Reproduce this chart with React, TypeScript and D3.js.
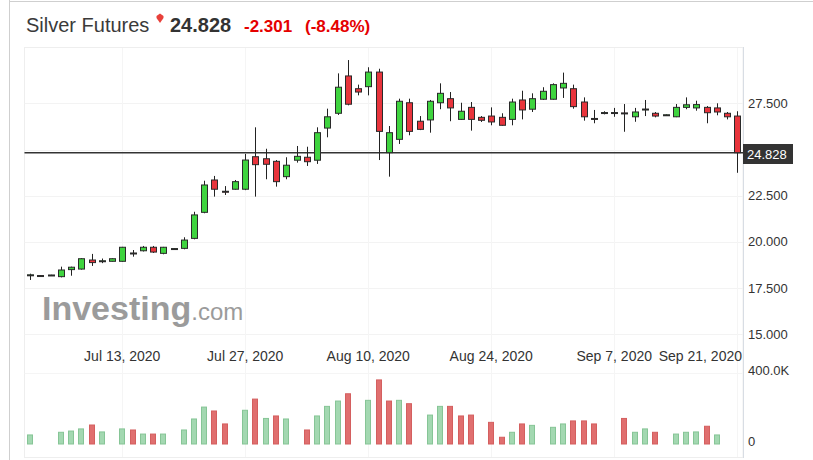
import React from 'react';
import * as d3 from 'd3';

// trading sessions (incl. Sunday evening sessions)
const dates = [
  '2020-07-02', '2020-07-03', '2020-07-05', '2020-07-06', '2020-07-07', '2020-07-08', '2020-07-09', '2020-07-10',
  '2020-07-12', '2020-07-13', '2020-07-14', '2020-07-15', '2020-07-16', '2020-07-17',
  '2020-07-19', '2020-07-20', '2020-07-21', '2020-07-22', '2020-07-23', '2020-07-24',
  '2020-07-26', '2020-07-27', '2020-07-28', '2020-07-29', '2020-07-30', '2020-07-31',
  '2020-08-02', '2020-08-03', '2020-08-04', '2020-08-05', '2020-08-06', '2020-08-07',
  '2020-08-09', '2020-08-10', '2020-08-11', '2020-08-12', '2020-08-13', '2020-08-14',
  '2020-08-16', '2020-08-17', '2020-08-18', '2020-08-19', '2020-08-20', '2020-08-21',
  '2020-08-23', '2020-08-24', '2020-08-25', '2020-08-26', '2020-08-27', '2020-08-28',
  '2020-08-30', '2020-08-31', '2020-09-01', '2020-09-02', '2020-09-03', '2020-09-04',
  '2020-09-06', '2020-09-07', '2020-09-08', '2020-09-09', '2020-09-10', '2020-09-11',
  '2020-09-13', '2020-09-14', '2020-09-15', '2020-09-16', '2020-09-17', '2020-09-18',
  '2020-09-20', '2020-09-21',
];

const open = [
  18.20, 18.18, 18.20, 18.12, 18.50, 18.53, 19.02, 18.96, 18.95, 18.95, 19.40, 19.52, 19.71, 19.38,
  19.62, 19.65, 20.19, 21.60, 23.35, 22.74, 22.85, 22.85, 24.61, 24.50, 24.36, 23.53,
  24.42, 24.58, 24.42, 26.16, 26.96, 28.98, 28.29, 28.40, 29.19, 24.83, 25.55, 27.53,
  26.53, 26.60, 27.53, 27.75, 26.63, 27.28, 26.74, 26.81, 26.74, 26.63, 27.68, 27.18,
  27.72, 27.72, 28.33, 28.29, 27.57, 26.68, 26.97, 26.98, 26.98, 26.77, 27.17, 26.96,
  26.86, 26.77, 27.28, 27.25, 27.28, 27.25, 26.96, 26.81,
];
const high = [
  18.28, 18.20, 18.22, 18.66, 18.66, 19.12, 19.35, 19.10, 19.11, 19.73, 19.56, 19.78, 19.78, 19.73,
  19.66, 20.25, 21.63, 23.31, 23.57, 23.02, 23.35, 24.76, 26.20, 25.04, 24.43, 24.58,
  25.19, 25.15, 26.20, 27.21, 29.12, 29.84, 28.51, 29.45, 29.37, 26.27, 27.75, 27.75,
  26.81, 27.68, 28.58, 28.11, 27.53, 27.57, 26.81, 27.28, 26.96, 27.75, 28.18, 28.04,
  28.37, 28.58, 29.16, 28.51, 27.82, 27.14, 27.07, 27.25, 27.46, 27.25, 27.68, 27.03,
  26.90, 27.46, 27.82, 27.64, 27.35, 27.50, 27.03, 27.07,
];
const low = [
  17.94, 18.14, 18.19, 18.08, 18.17, 18.50, 18.70, 18.85, 18.94, 18.93, 19.20, 19.48, 19.40, 19.33,
  19.58, 19.60, 20.14, 21.55, 22.45, 22.54, 22.83, 22.80, 22.45, 23.39, 22.99, 23.39,
  24.29, 24.11, 24.22, 25.66, 26.87, 27.39, 27.93, 27.93, 24.43, 23.53, 25.30, 25.77,
  26.05, 25.91, 27.18, 26.53, 26.60, 26.02, 26.49, 26.31, 26.29, 26.31, 26.63, 27.03,
  27.68, 27.70, 27.79, 27.21, 26.56, 26.42, 26.90, 26.77, 25.96, 26.50, 26.81, 26.74,
  26.84, 26.75, 27.18, 27.10, 26.42, 26.85, 26.63, 23.74,
];
const close = [
  18.22, 18.15, 18.21, 18.48, 18.63, 19.09, 18.88, 18.98, 19.09, 19.71, 19.38, 19.71, 19.45, 19.71,
  19.64, 20.10, 21.46, 23.08, 22.85, 22.70, 23.26, 24.43, 24.18, 24.20, 23.26, 24.15,
  24.63, 24.34, 25.91, 26.77, 28.37, 27.45, 28.11, 29.19, 25.98, 25.91, 27.61, 25.98,
  26.09, 27.61, 28.04, 27.25, 27.07, 26.63, 26.58, 26.49, 26.31, 27.57, 27.14, 27.75,
  28.15, 28.51, 28.58, 27.32, 26.77, 26.66, 27.00, 27.00, 26.95, 27.03, 27.19, 26.81,
  26.88, 27.28, 27.42, 27.43, 26.99, 27.03, 26.77, 24.828,
];
// volume in thousands, null = no bar
const volume = [
  51, null, null, 66, 73, 85, 107, 68, null, 85, 79, 56, 56, 56,
  null, 79, 141, 208, 186, 113, null, 190, 253, 144, 158, 141,
  null, 79, 158, 212, 242, 283, null, 246, 361, 242, 246, 227,
  null, 163, 212, 212, 158, 163, null, 122, 38, 66, 113, 105,
  null, 94, 113, 130, 130, 113, null, null, 144, 66, 85, 66,
  null, 56, 66, 68, 100, 51, null, null,
];

const tickDates = ['2020-07-13', '2020-07-27', '2020-08-10', '2020-08-24', '2020-09-07', '2020-09-21'];
const priceTicks = [15, 17.5, 20, 22.5, 25, 27.5];
const volumeTicks = [0, 400];

const lastPrice = 24.828;
const change = '-2.301';
const changePct = '(-8.48%)';

const W = 813;
const H = 460;
const FONT = '"Liberation Sans", Arial, sans-serif';

export default function App() {
  const plotLeft = 24.5;
  const plotRight = 743;
  const x = d3.scaleLinear().domain([0, dates.length - 1]).range([30, 737.25]);
  const y = d3.scaleLinear().domain([15, 27.5]).range([334.3, 103.3]);
  const yv = d3.scaleLinear().domain([0, 400]).range([444, 373]);
  const fmt = d3.timeFormat('%b %-d, %Y');
  const parse = d3.timeParse('%Y-%m-%d');

  const candles = dates.map((d, i) => ({ d, i, o: open[i], h: high[i], l: low[i], c: close[i], v: volume[i] }));
  const px = (v: number) => Math.round(v) + 0.5;

  return (
    <svg width={W} height={H} style={{ display: 'block', position: 'absolute', left: 0, top: 0, background: '#fff' }} fontFamily={FONT}>
      {/* outer border */}
      <line x1={9.5} x2={9.5} y1={0} y2={H} stroke="#cfcfcf" />
      <line x1={9} x2={W} y1={1.5} y2={1.5} stroke="#cfcfcf" />

      {/* title */}
      <text x={26} y={32} fontSize={20} fill="#3a3a3a">Silver Futures</text>
      <path d="M156.5,16 L160,13.5 L163.5,16 L163.5,18 L160,23 L156.5,18 Z" fill="#e8403a" />
      <text x={170} y={32} fontSize={20} fontWeight="bold" fill="#333">{lastPrice.toFixed(3)}</text>
      <text x={244} y={32} fontSize={17} fontWeight="bold" fill="#e50000">{change}</text>
      <text x={305} y={32} fontSize={17} fontWeight="bold" fill="#e50000">{changePct}</text>

      {/* plot frame */}
      <rect x={plotLeft} y={47.5} width={plotRight - plotLeft} height={410} fill="none" stroke="#eeeeee" />
      <line x1={plotRight + 0.5} x2={plotRight + 0.5} y1={47} y2={458} stroke="#d8dde4" />

      {/* gridlines */}
      {priceTicks.map(t => (
        <line key={'gp' + t} x1={plotLeft} x2={plotRight} y1={px(y(t))} y2={px(y(t))} stroke="#f3f3f3" />
      ))}
      {tickDates.map(t => {
        const xi = x(dates.indexOf(t));
        return <line key={'gd' + t} x1={px(xi)} x2={px(xi)} y1={48} y2={457} stroke="#f5f5f5" />;
      })}
      <line x1={plotLeft} x2={plotRight} y1={px(yv(400))} y2={px(yv(400))} stroke="#f5f5f5" />

      {/* watermark */}
      <text x={42} y={320} fill="#9b9b9b">
        <tspan fontSize={34} fontWeight="bold">Investing</tspan>
        <tspan fontSize={24}>.com</tspan>
      </text>

      {/* last price line */}
      <line x1={plotLeft} x2={plotRight} y1={y(lastPrice)} y2={y(lastPrice)} stroke="#333" strokeWidth={1.6} />

      {/* candles */}
      {candles.map(k => {
        const cx = px(x(k.i));
        const up = k.c >= k.o;
        const top = y(Math.max(k.o, k.c));
        const bot = y(Math.min(k.o, k.c));
        return (
          <g key={k.d}>
            <line x1={cx} x2={cx} y1={y(k.h)} y2={y(k.l)} stroke="#222" strokeWidth={1} />
            <rect x={cx - 3} y={top} width={6} height={Math.max(bot - top, 1)}
              fill={up ? '#3fd43f' : '#e8343c'} stroke="#2a2a2a" strokeWidth={1} />
          </g>
        );
      })}

      {/* volume */}
      {candles.map(k => {
        if (k.v == null) return null;
        const prev = k.i > 0 ? close[k.i - 1] : k.o;
        const up = k.c >= prev;
        const cx = x(k.i);
        return (
          <rect key={'v' + k.d} x={Math.round(cx) - 2.5} y={yv(k.v)} width={5} height={yv(0) - yv(k.v)}
            fill={up ? '#a3d8b1' : '#e06f6f'} stroke={up ? '#86c596' : '#d45f5f'} strokeWidth={1} />
        );
      })}

      {/* date labels */}
      {tickDates.map(t => {
        const xi = x(dates.indexOf(t));
        const label = fmt(parse(t) as Date);
        const overflow = xi + 40 > plotRight;
        return (
          <text key={'dl' + t} x={overflow ? plotRight - 1 : xi} y={361} fontSize={14} fill="#333"
            textAnchor={overflow ? 'end' : 'middle'}>{label}</text>
        );
      })}

      {/* price axis */}
      {priceTicks.filter(t => Math.abs(y(t) - y(lastPrice)) > 12).map(t => (
        <text key={'pl' + t} x={748} y={y(t) + 4.5} fontSize={13} fill="#333">{t.toFixed(3)}</text>
      ))}
      <rect x={743} y={144} width={50} height={20} fill="#333" />
      <text x={747} y={158.5} fontSize={13} fill="#fff">{lastPrice.toFixed(3)}</text>

      {/* volume axis */}
      {volumeTicks.map(t => (
        <text key={'vl' + t} x={748} y={yv(t) + 2} fontSize={13} fill="#333">
          {t === 0 ? '0' : `${t.toFixed(1)}K`}
        </text>
      ))}
    </svg>
  );
}
